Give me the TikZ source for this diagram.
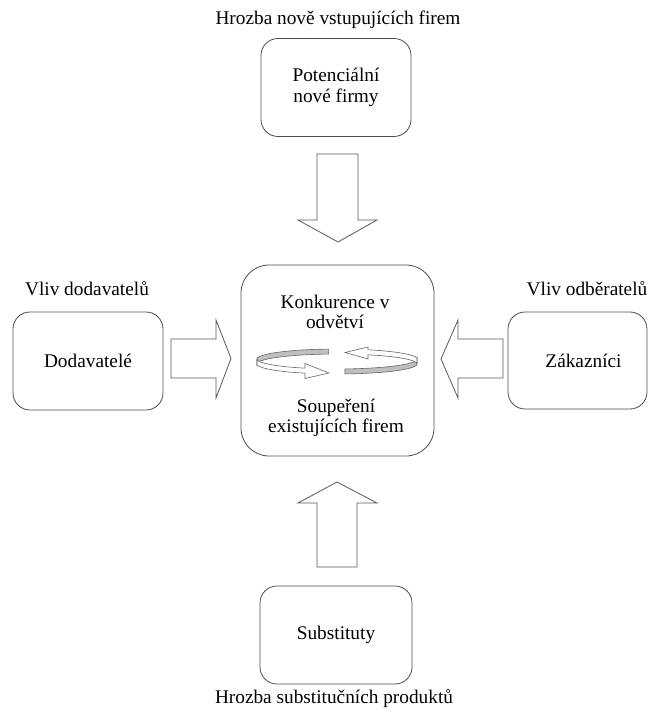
\documentclass[tikz,border=0pt]{standalone}
\usepackage{fontspec}
\setmainfont{Liberation Serif}
\usepackage{tikz}
\usetikzlibrary{positioning}

\begin{document}
\begin{tikzpicture}
                [x=1pt, y=-1pt,
                 box/.style = {draw=black!70, line width=0.8pt, rounded corners=17pt, align=center,
                               minimum width=150pt, minimum height=98pt, inner sep=0pt},
                 lbl/.style = {inner sep=0pt, align=center},
                 blockarrow/.style = {draw=black!65, fill=white, line width=0.8pt, line join=miter},
                 backband/.style = {draw=black!60, fill=black!25, line width=0.6pt},
                 frontband/.style = {draw=black!60, fill=white, line width=0.6pt}]
    \useasboundingbox (0,0) rectangle (649,711);
    \fontsize{19.3}{20.5}\selectfont

                \node[box] (entrants) at (336,87.5) {Potenciální\\nové firmy};
                \node[box, minimum width=193pt, minimum height=191pt, rounded corners=28pt] (rivalry) at (337.5,360.5) {};
                \node[box] (suppliers) at (88,361) {Dodavatelé};
                \node[box, minimum width=139pt, minimum height=97pt] (buyers) at (577.5,360.5) {\hspace*{12pt}Zákazníci};
                \node[box, minimum width=152pt] (substitutes) at (336,635) {Substituty};

                \node[lbl] (threatnew) at (338,20) {Hrozba nově vstupujících firem};
                \node[lbl] (powersup) at (87,289) {Vliv dodavatelů};
                \node[lbl] (powerbuy) at (587,289) {Vliv odběratelů};
                \node[lbl] (threatsub) at (334,699) {Hrozba substitučních produktů};

                \node[lbl] (konk) at (335,312) {Konkurence v\\odvětví};
                \node[lbl] (soup) at (336,418) {Soupeření\\existujících firem};

                % block arrows into the centre
                \draw[blockarrow] (317,154) -- (358,154) -- (358,220) -- (377,220) -- (338,242) -- (298,220) -- (317,220) -- cycle;
                \draw[blockarrow] (317,567) -- (357,567) -- (357,503) -- (377,503) -- (337,482) -- (298,503) -- (317,503) -- cycle;
                \draw[blockarrow] (171,339) -- (216,339) -- (216,320) -- (231,358.5) -- (216,398) -- (216,378) -- (171,378) -- cycle;
                \draw[blockarrow] (503,339) -- (458,339) -- (458,320) -- (441,359) -- (458,398) -- (458,378) -- (503,378) -- cycle;

                % circular arrows
                \draw[backband] plot[domain=264:180, samples=30] ({337+80*cos(\x)},{359+10*sin(\x)})
                    -- plot[domain=180:264, samples=30] ({337+80*cos(\x)},{364+10*sin(\x)}) -- cycle;
                \draw[frontband] plot[domain=180:113.6, samples=30] ({337+80*cos(\x)},{359+10*sin(\x)})
                    -- (305,363.5) -- (329,373) -- (305,378.5)
                    -- plot[domain=113.6:180, samples=30] ({337+80*cos(\x)},{364+10*sin(\x)}) -- cycle;
                \draw[backband] plot[domain=84.3:0, samples=30] ({337+80*cos(\x)},{364+10*sin(\x)})
                    -- plot[domain=0:84.3, samples=30] ({337+80*cos(\x)},{359+10*sin(\x)}) -- cycle;
                \draw[frontband] plot[domain=360:292.8, samples=30] ({337+80*cos(\x)},{359+10*sin(\x)})
                    -- (368,347) -- (345,352.5) -- (368,359)
                    -- plot[domain=292.8:360, samples=30] ({337+80*cos(\x)},{364+10*sin(\x)}) -- cycle;
            \end{tikzpicture}
\end{document}
